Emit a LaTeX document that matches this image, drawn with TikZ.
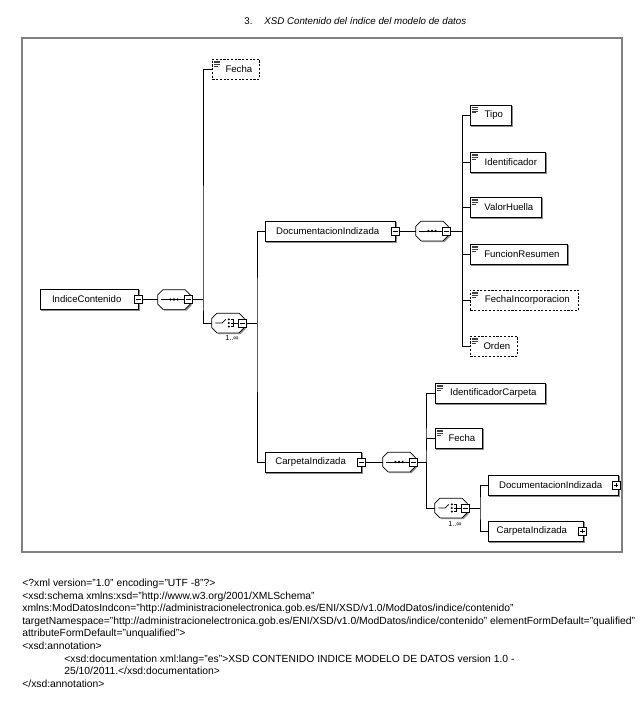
\documentclass[tikz,border=0pt]{standalone}
\usepackage{fontspec}
\setmainfont{Liberation Sans}
\usetikzlibrary{shadows}
\newcommand\simpleicon[1]{%
  \draw[line width=0.45pt,black!75]
    ([shift={(2,2.2)}]#1.north west) -- ++(6,0)
    ([shift={(2,4.0)}]#1.north west) -- ++(6,0)
    ([shift={(2,5.8)}]#1.north west) -- ++(6,0)
    ([shift={(2,7.6)}]#1.north west) -- ++(4,0);}
\newcommand\octpath[1]{([xshift=4pt]#1.north west) -- ([xshift=-4pt]#1.north east) -- ([yshift=-4pt]#1.north east) -- ([yshift=4pt]#1.south east) -- ([xshift=-4pt]#1.south east) -- ([xshift=4pt]#1.south west) -- ([yshift=4pt]#1.south west) -- ([yshift=-4pt]#1.north west) -- cycle}
\newcommand\compshape[1]{%
  \fill[black!45,transform canvas={xshift=1pt,yshift=-1pt}] \octpath{#1};
  \draw[fill=white] \octpath{#1};}
\newcommand\seqmark[1]{%
  \draw ([xshift=-9.5pt]#1.center) -- (#1.east);
  \foreach \d in {-2.7,0,2.7} \fill ([xshift=\d pt]#1.center) circle (1pt);}
\newcommand\choicemark[1]{%
  \draw ([xshift=-9.5pt]#1.center) -- ([xshift=-4.5pt]#1.center) -- ([shift={(-1.6pt,2.7pt)}]#1.center);
  \foreach \d in {-2.7,0,2.7} \fill ([shift={(0.6pt,\d pt)}]#1.center) circle (0.85pt);
  \draw ([shift={(2.4pt,2.7pt)}]#1.center) -- ([shift={(4pt,2.7pt)}]#1.center) -- ([shift={(4pt,-2.7pt)}]#1.center) -- ([shift={(2.4pt,-2.7pt)}]#1.center);
  \draw ([shift={(2.4pt,0pt)}]#1.center) -- (#1.east);}
\begin{document}
\begin{tikzpicture}[x=0.75pt,y=-0.75pt,line width=0.55pt,
  shad/.style={copy shadow={shadow xshift=1pt,shadow yshift=-1pt,draw=black!45,fill=black!45}},
  elem/.style={draw,fill=white,anchor=west,inner sep=0pt,minimum height=15pt,
    font=\fontsize{7.2}{8}\selectfont,shad},
  opt/.style={draw,dash pattern=on 1.6pt off 1.2pt,fill=white,anchor=west,inner sep=0pt,
    minimum height=15pt,font=\fontsize{7.2}{8}\selectfont},
  comp/.style={minimum width=24pt,minimum height=14.25pt,inner sep=0pt},
  sqm/.style={draw,fill=white,minimum size=6pt,inner sep=0pt,
    path picture={\draw[line width=0.5pt] ([xshift=1.2pt]path picture bounding box.west) -- ([xshift=-1.2pt]path picture bounding box.east);}},
  sqp/.style={draw,fill=white,minimum size=6pt,inner sep=0pt,
    path picture={\draw[line width=0.5pt] ([xshift=1.2pt]path picture bounding box.west) -- ([xshift=-1.2pt]path picture bounding box.east)
      ([yshift=1.2pt]path picture bounding box.south) -- ([yshift=-1.2pt]path picture bounding box.north);}},
  mult/.style={font=\fontsize{5.5}{6}\selectfont,inner sep=0pt},
]
\useasboundingbox (0,0) rectangle (642,711);
\fill[white] (0,0) rectangle (642,711);

% title
\node[anchor=west,inner sep=0pt,font=\fontsize{7.3}{9}\selectfont] (tnum) at (244,21) {3.};
\node[anchor=west,inner sep=0pt,font=\fontsize{7.3}{9}\selectfont\itshape] (ttext) at (264,21) {XSD Contenido del índice del modelo de datos};

% frame
\draw[black!50,line width=1pt] (22,38) rectangle (622,552);

% root
\node[elem,minimum width=98*0.75pt] (ic) at (40,299.5) {IndiceContenido\hspace*{4pt}};
\node[sqm] (icm) at (ic.east) {};

\node[comp] (s1) at (174,299.5) {};
\compshape{s1}
\seqmark{s1}
\node[sqm] (s1m) at ([xshift=-1.5pt]s1.east) {};

\node[opt,minimum width=47*0.75pt] (fe1) at (212,69) {\hspace*{4.5pt}Fecha};
\simpleicon{fe1}

\node[comp] (c1) at (228,323) {};
\compshape{c1}
\choicemark{c1}
\node[sqm] (c1m) at ([xshift=-1.5pt]c1.east) {};
\node[mult] (c1n) at (232,338) {1..∞};

\coordinate (b1) at (203,299.5);
\coordinate (b2) at (257,323);
\draw (icm.east) -- (s1.west);
\draw (s1m.east) -- (b1);
\draw (fe1.west) -| (b1) |- (c1.west);
\draw (c1m.east) -- (b2);

% DocumentacionIndizada
\node[elem,minimum width=130*0.75pt] (di) at (265,231) {DocumentacionIndizada\hspace*{4pt}};
\node[sqm] (dim) at (di.east) {};
\node[comp] (s2) at (432,231) {};
\compshape{s2}
\seqmark{s2}
\node[sqm] (s2m) at ([xshift=-1.5pt]s2.east) {};
\draw (dim.east) -- (s2.west);

\node[elem,minimum width=96*0.75pt] (ca) at (265,462) {CarpetaIndizada\hspace*{4pt}};
\node[sqm] (cam) at (ca.east) {};
\node[comp] (s3) at (399,462) {};
\compshape{s3}
\seqmark{s3}
\node[sqm] (s3m) at ([xshift=-1.5pt]s3.east) {};
\draw (cam.east) -- (s3.west);

\draw (di.west) -| (b2) |- (ca.west);

% children of DocumentacionIndizada
\coordinate (b3) at (462,231);
\draw (s2m.east) -- (b3);
\node[elem,minimum width=41*0.75pt] (tipo) at (470,115.5) {\hspace*{4.5pt}Tipo};
\node[elem,minimum width=75*0.75pt] (iden) at (470,162) {\hspace*{4.5pt}Identificador};
\node[elem,minimum width=71*0.75pt] (valo) at (470,207) {\hspace*{4.5pt}ValorHuella};
\node[elem,minimum width=97*0.75pt] (func) at (470,254) {\hspace*{4.5pt}FuncionResumen};
\node[opt,minimum width=108*0.75pt] (finc) at (470,300) {\hspace*{4.5pt}FechaIncorporacion};
\node[opt,minimum width=47*0.75pt] (orde) at (470,346) {\hspace*{4.5pt}Orden};
\foreach \n in {tipo,iden,valo,func,finc,orde} {\simpleicon{\n} \draw (\n.west) -| (b3);}

% children of CarpetaIndizada
\coordinate (b4) at (426,462);
\draw (s3m.east) -- (b4);
\node[elem,minimum width=110*0.75pt] (idca) at (435,393) {\hspace*{4.5pt}IdentificadorCarpeta};
\node[elem,minimum width=47*0.75pt] (fe2) at (435,438) {\hspace*{4.5pt}Fecha};
\simpleicon{idca}
\simpleicon{fe2}
\node[comp] (c2) at (451,508) {};
\compshape{c2}
\choicemark{c2}
\node[sqm] (c2m) at ([xshift=-1.5pt]c2.east) {};
\node[mult] (c2n) at (455,524) {1..∞};
\draw (idca.west) -| (b4) |- (fe2.west);
\draw (b4) |- (c2.west);

\coordinate (b5) at (480,508);
\draw (c2m.east) -- (b5);
\node[elem,minimum width=130*0.75pt] (di2) at (488,485) {DocumentacionIndizada\hspace*{4pt}};
\node[sqp] (di2p) at ([xshift=-2pt]di2.east) {};
\node[elem,minimum width=95*0.75pt] (ca2) at (488,531) {CarpetaIndizada\hspace*{6pt}};
\node[sqp] (ca2p) at ([xshift=-1pt]ca2.east) {};
\draw (di2.west) -| (b5) |- (ca2.west);

% XML text
\node[anchor=north west,inner sep=0pt,align=left,font=\fontsize{7.75}{9.4}\selectfont] (xml) at (22,579) {%
<?xml version="1.0" encoding="UTF -8"?>\\
<xsd:schema xmlns:xsd="http://www.w3.org/2001/XMLSchema"\\
xmlns:ModDatosIndcon="http://administracionelectronica.gob.es/ENI/XSD/v1.0/ModDatos/indice/contenido"\\
targetNamespace="http://administracionelectronica.gob.es/ENI/XSD/v1.0/ModDatos/indice/contenido" elementFormDefault="qualified"\\
attributeFormDefault="unqualified">\\
<xsd:annotation>\\
\hspace*{31.5pt}<xsd:documentation xml:lang="es">XSD CONTENIDO INDICE MODELO DE DATOS version 1.0 -\\
\hspace*{31.5pt}25/10/2011.</xsd:documentation>\\
</xsd:annotation>};
\end{tikzpicture}
\end{document}
